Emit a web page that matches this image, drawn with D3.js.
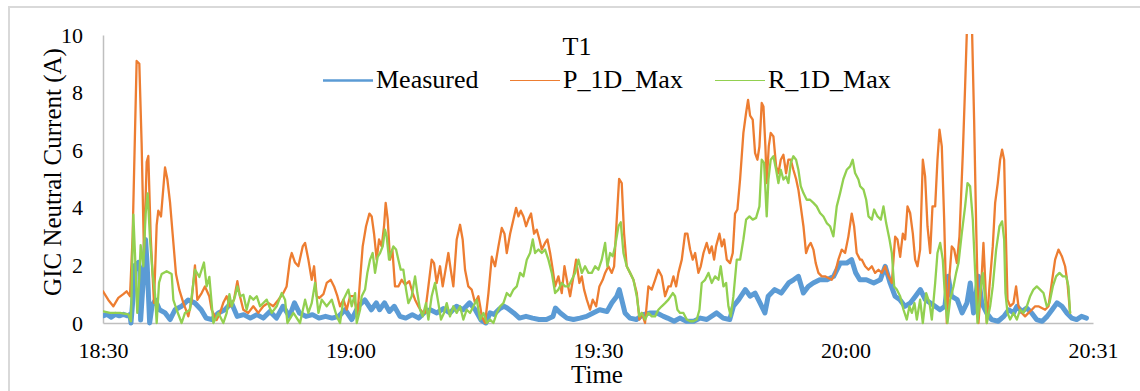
<!DOCTYPE html>
<html><head><meta charset="utf-8">
<script src="https://cdn.jsdelivr.net/npm/d3@7"></script>
<style>
body{margin:0;background:#fff}
svg{display:block}
text{font-family:"Liberation Serif","Times New Roman",serif;fill:#000}
</style>
</head><body>
<svg id="chart" width="1140" height="391"></svg>
<script>
// ---- data (time = minutes after 18:30, value = A) ----
const chartTitle = "T1";
const seriesNames = ["Measured", "P_1D_Max", "R_1D_Max"];
const yTicks = [0, 2, 4, 6, 8, 10];
const xTickLabels = ["18:30", "19:00", "19:30", "20:00", "20:31"];
const startClock = [18, 30];
const endClock = [20, 31];

const measured = [[0,0.25],[0.5,0.3],[1,0.2],[1.5,0.3],[2,0.25],[2.5,0.3],[3,0.25],[3.3,0.3],[3.42,0],[3.7,1.0],[3.9,2.0],[4.3,2.1],[4.5,1.8],[4.6,0.1],[4.9,1.4],[5.2,2.9],[5.4,2.0],[5.7,0],[6,0.6],[6.4,0.8],[6.9,0.46],[7.6,0.35],[8.2,0.12],[8.8,0.46],[9.6,0.58],[10.4,0.8],[11.2,0.7],[12,0.46],[12.6,0.17],[13.3,0.12],[14.1,0.35],[14.9,0.46],[15.7,0.7],[16.4,0.23],[17.2,0.29],[18,0.17],[18.8,0.29],[19.6,0.17],[20.4,0.4],[21.2,0.17],[22,0.58],[22.8,0.23],[23.4,0.7],[24,0.35],[24.8,0.23],[25.6,0.29],[26.4,0.17],[27.2,0.23],[28,0.17],[28.8,0.23],[29.6,0.46],[30.4,0.12],[31.2,0.58],[32,0.8],[32.8,0.46],[33.4,0.7],[33.8,0.46],[34.4,0.7],[35,0.4],[35.6,0.58],[36.3,0.23],[37,0.17],[37.8,0.29],[38.6,0.17],[39.4,0.4],[40,0.46],[40.8,0.35],[41.6,0.5],[42.4,0.35],[43.2,0.58],[44,0.46],[44.8,0.7],[45.5,0.46],[46.2,0.1],[46.8,0],[47.3,0.35],[47.8,0.3],[48.5,0.5],[49,0.58],[49.4,0.52],[50.2,0.35],[50.9,0.17],[51.7,0.23],[52.5,0.17],[53.3,0.12],[54.2,0.12],[55,0.23],[55.3,0.52],[55.9,0.35],[56.7,0.17],[57.5,0.12],[58.3,0.17],[59.1,0.23],[59.9,0.35],[60.7,0.46],[61.6,0.4],[62.2,0.7],[62.8,0.93],[63.1,1.16],[63.4,0.81],[63.8,0.35],[64.4,0.17],[65.2,0.12],[66,0.29],[66.9,0.35],[67.7,0.35],[68.5,0.23],[69,0.17],[69.8,0.06],[70.5,0.17],[71.3,0.06],[72.2,0.06],[73,0.17],[73.8,0.12],[75,0.35],[75.8,0.17],[76.6,0.12],[77.05,0.58],[77.7,0.81],[78.5,1.16],[79.1,0.93],[79.7,1.04],[80.3,0.7],[80.9,0.35],[81.3,0.93],[82.1,1.16],[82.9,1.04],[83.8,1.39],[84.4,1.5],[85,1.62],[85.6,1.04],[86.2,1.27],[86.8,1.39],[87.6,1.5],[88.5,1.5],[89.3,1.62],[90.1,2.08],[90.9,2.08],[91.5,2.2],[92,1.74],[92.5,1.5],[93.3,1.5],[94.2,1.39],[95,1.5],[95.6,1.97],[96.2,1.39],[96.8,0.93],[97.4,0.81],[98,0.58],[98.7,0.7],[99.3,0.93],[99.9,1.16],[100.5,0.81],[101.1,0.7],[101.7,0.58],[102.3,0.46],[102.9,0.58],[103.3,1.62],[103.7,0.93],[104.4,0.81],[105,0.35],[105.6,0.7],[106,1.39],[106.4,0.35],[107,1.62],[107.4,0.7],[108,0.35],[108.6,0.12],[109.4,0.06],[110.1,0.23],[110.7,0.46],[111.3,0.35],[111.7,0.58],[112.3,0.4],[112.9,0.52],[113.5,0.35],[114.1,0.12],[114.8,0.06],[115.4,0.23],[116,0.46],[116.6,0.7],[117.2,0.58],[117.8,0.35],[118.4,0.17],[119,0.12],[119.6,0.23],[120.2,0.17]];

const p1dMax = [[0,1.1],[0.65,0.8],[1.26,0.58],[1.87,0.87],[2.48,1.0],[2.89,1.1],[3.3,0.93],[3.62,3.0],[4.11,9.1],[4.44,9.0],[4.72,6.25],[5.01,2.4],[5.34,5.6],[5.54,5.8],[5.83,3.0],[6.23,0.7],[6.56,3.4],[6.76,3.9],[7.09,3.7],[7.58,5.4],[7.86,5.0],[8.19,4.2],[8.51,3.1],[8.92,1.7],[9.33,1.15],[9.82,0.7],[10.43,0.23],[10.84,0.8],[11.24,2.0],[11.53,0.8],[12.06,1.04],[12.46,1.27],[12.99,0.93],[13.28,0.46],[13.89,0.1],[14.3,0.35],[14.7,0.7],[15.11,0.93],[15.52,0.58],[16,0.8],[16.42,1.45],[16.74,0.93],[17.15,0.46],[17.76,0.35],[18.37,0.58],[18.98,0.35],[19.59,0.58],[20.2,0.7],[20.81,0.58],[21.42,0.8],[22.04,1.04],[22.44,1.27],[22.85,2.2],[23.07,2.43],[23.47,2.1],[23.88,1.97],[24.41,2.66],[24.7,2.78],[25.1,2.2],[25.51,1.5],[25.8,1.97],[26.12,0.93],[26.45,0.87],[26.94,1.0],[27.34,1.39],[27.83,1.5],[28.24,1.27],[28.65,0.93],[28.97,0.58],[29.38,0.81],[29.79,0.46],[30.19,0.93],[30.68,0.93],[31.09,0.23],[31.42,1.5],[31.74,2.66],[32.15,3.36],[32.56,3.8],[32.84,3.7],[33.13,3.1],[33.45,2.2],[33.74,2.9],[34.06,2.66],[34.35,3.36],[34.55,4.17],[34.8,3.6],[35.08,2.2],[35.37,2.55],[35.69,1.27],[36.1,1.27],[36.51,1.5],[36.92,1.33],[37.44,1.45],[37.85,1.04],[38.14,0.81],[38.54,0.58],[38.95,0.4],[39.36,0.35],[39.77,1.27],[40.17,2.2],[40.46,2.08],[40.78,1.39],[41.19,1.97],[41.52,1.27],[41.8,1.74],[42.21,2.43],[42.5,1.85],[42.82,1.27],[43.23,2.9],[43.64,3.41],[43.96,2.9],[44.25,1.85],[44.65,1.27],[45.06,1.16],[45.47,0.7],[45.88,0.93],[46.1,0.58],[46.3,0.23],[46.7,0],[47.11,1.04],[47.52,2.3],[47.92,1.97],[48.33,2.66],[48.74,3.3],[49.07,3.1],[49.35,2.43],[49.76,3.1],[50.17,3.6],[50.49,4.0],[50.78,3.7],[51.06,3.9],[51.39,3.7],[51.71,3.36],[52,3.6],[52.32,3.8],[52.69,3.1],[53.02,3.24],[53.34,2.9],[53.63,2.55],[54.03,2.78],[54.32,2.9],[54.65,2.43],[54.97,1.85],[55.26,1.27],[55.66,1.62],[56.07,1.04],[56.4,1.97],[56.76,1.39],[57.09,0.93],[57.5,1.62],[57.82,2.2],[58.23,1.39],[58.52,1.62],[58.8,1.16],[59.13,0.81],[59.53,0.46],[59.86,0.81],[60.27,0.58],[60.67,1.27],[61.08,1.5],[61.37,1.74],[61.77,1.97],[62.18,1.74],[62.47,1.97],[62.79,3.6],[63.08,5.0],[63.4,4.86],[63.69,3.1],[64.01,1.97],[64.42,1.74],[64.83,1.5],[65.24,1.04],[65.56,0.12],[65.85,0.35],[66.25,0],[66.66,1.27],[67.07,1.16],[67.48,1.5],[67.88,1.85],[68.29,1.62],[68.7,0.93],[69.11,1.27],[69.39,1.27],[69.72,1.62],[70.05,1.27],[70.33,1.74],[70.74,2.2],[71.14,3.1],[71.43,3.1],[71.76,2.55],[72.08,2.2],[72.37,2.43],[72.77,1.74],[73.06,1.97],[73.39,2.43],[73.79,2.78],[74.12,2.43],[74.4,2.66],[74.69,2.2],[74.93,2.66],[75.34,3.1],[75.63,2.66],[75.91,2.9],[76.24,2.2],[76.64,2.08],[76.97,2.43],[77.25,3.8],[77.54,3.94],[77.87,5.0],[78.27,6.6],[78.6,7.3],[78.84,7.75],[79.09,7.2],[79.41,7.06],[79.7,5.9],[79.98,5.67],[80.23,6.13],[80.51,7.64],[80.72,7.52],[80.96,6.13],[81.12,4.86],[81.37,6.13],[81.61,6.6],[81.94,6.48],[82.27,5.44],[82.55,5.2],[82.84,5.67],[83.16,5.84],[83.49,5.2],[83.77,5.67],[84.06,5.67],[84.38,5.32],[84.71,5.0],[84.99,4.63],[85.28,4.05],[85.61,3.36],[85.93,2.43],[86.22,2.66],[86.5,2.78],[86.83,2.55],[87.11,2.08],[87.44,1.74],[87.85,1.62],[88.25,1.62],[88.66,1.56],[89.07,1.5],[89.48,1.74],[89.88,2.2],[90.29,2.55],[90.7,2.43],[91.1,3.0],[91.51,3.8],[91.8,3.36],[92.12,2.43],[92.53,2.2],[92.75,2.2],[93.15,1.97],[93.56,1.85],[93.97,1.97],[94.37,1.74],[94.78,1.85],[95.19,1.74],[95.6,1.97],[96,1.62],[96.41,1.39],[96.82,3.0],[97.1,2.9],[97.43,2.3],[97.76,3.1],[98.04,2.9],[98.33,4.05],[98.65,3.82],[98.98,3.1],[99.26,2.2],[99.55,1.97],[99.87,2.55],[100.2,5.67],[100.48,5.09],[100.77,3.36],[101.1,2.43],[101.38,4.05],[101.71,4.05],[101.99,5.67],[102.24,6.71],[102.52,6.13],[102.81,3.59],[103.13,0],[103.42,1.5],[103.74,2.66],[104.03,2.55],[104.36,2.08],[104.68,3.01],[105.09,5.9],[105.37,8.22],[105.58,10.1],[105.9,11.5],[106.19,10.5],[106.47,7.06],[106.72,3.36],[107,0],[107.33,1.27],[107.61,2.78],[107.82,1.5],[108.02,0],[108.35,1.27],[108.75,2.66],[109.04,4.17],[109.36,4.86],[109.65,5.67],[109.89,6.02],[110.14,5.67],[110.3,3.59],[110.55,0.81],[110.87,0.58],[111.28,0.69],[111.6,1.27],[111.89,0.58],[112.3,0.35],[112.7,0.23],[113.11,0.35],[113.52,0.46],[113.93,0.58],[114.33,0.58],[114.74,0.52],[115.15,0.46],[115.56,0.58],[115.96,1.39],[116.37,2.2],[116.78,2.55],[117.19,2.32],[117.59,1.97],[117.88,1.39],[118.2,0.35]];

const r1dMax = [[0.04,0.4],[0.85,0.35],[2.07,0.35],[3.1,0.3],[3.42,0.06],[3.71,3.76],[3.91,2.4],[4.19,0.35],[4.44,1.6],[4.6,2.7],[4.93,1.97],[5.21,3.8],[5.46,4.5],[5.75,2.9],[6.07,1.7],[6.36,1.0],[6.56,0],[6.85,1.4],[7.17,1.7],[7.78,1.8],[8.39,1.7],[8.6,0.8],[9,0.46],[9.61,0],[10.02,0.35],[10.63,0.46],[11.25,1.85],[11.78,1.6],[12.34,2.1],[12.67,1.27],[13,1.6],[13.49,0],[14.1,0.35],[14.71,0],[15.12,0.35],[15.45,1.0],[15.73,0.58],[16.14,0.93],[16.42,1.27],[16.75,0.93],[17.16,0.98],[17.56,0.46],[17.97,0.93],[18.38,0.81],[18.79,0.93],[19.2,0.58],[20.01,0.81],[20.62,0.35],[21.23,0.58],[21.84,1.04],[22.25,0.81],[22.54,0],[23.27,0.35],[24.08,0],[24.7,0.81],[25.1,0.35],[25.51,0.69],[25.92,1.39],[26.33,0.35],[26.73,0.81],[27.34,0.58],[27.96,0.81],[28.57,0.23],[28.97,0],[29.38,0.81],[29.99,1.16],[30.4,0.58],[30.81,1.04],[31.01,0],[31.42,0.46],[31.62,0.93],[32.03,1.16],[32.31,1.74],[32.64,2.2],[32.96,2.43],[33.25,1.74],[33.57,2.3],[33.86,2.43],[34.19,2.66],[34.47,3.24],[34.67,3.01],[34.96,2.2],[35.2,2.43],[35.49,2.66],[35.82,2.55],[36.1,2.2],[36.39,1.85],[36.71,1.85],[37.04,1.16],[37.32,0.69],[37.73,0.93],[38.14,1.62],[38.42,1.04],[38.75,0.46],[39.07,0.23],[39.48,0.69],[39.77,0.12],[40.17,0.93],[40.58,1.39],[40.99,0.69],[41.31,0.12],[41.68,0.35],[42.01,0.69],[42.41,0.23],[42.82,0.58],[43.23,0.35],[43.64,0.58],[44.04,0.12],[44.45,0.46],[44.86,0.35],[45.68,0.81],[46.09,0.12],[46.5,0.35],[46.91,0],[47.31,0.12],[47.72,0],[48.13,0.35],[48.54,0.58],[48.94,0.69],[49.35,1.04],[49.76,0.93],[50.17,1.16],[50.57,1.27],[50.98,1.74],[51.39,1.62],[51.8,2.2],[52.2,2.43],[52.53,2.9],[52.81,2.43],[53.22,2.55],[53.63,2.43],[54.03,2.55],[54.44,2.2],[54.85,1.74],[55.26,1.04],[55.66,1.16],[56.07,1.39],[56.48,1.27],[56.89,1.27],[57.29,1.5],[57.7,1.74],[58.11,2.2],[58.52,1.74],[58.92,1.97],[59.33,1.74],[59.74,1.74],[60.15,1.97],[60.55,1.85],[60.96,2.2],[61.37,2.78],[61.65,1.97],[61.98,2.43],[62.3,2.32],[62.59,2.66],[63,3.36],[63.28,3.5],[63.61,2.43],[64.01,1.97],[64.42,1.74],[64.83,1.5],[65.24,0.93],[65.56,0.23],[65.85,0.35],[66.25,0.12],[66.66,0.35],[67.07,0.23],[67.48,0.23],[67.88,0.46],[68.29,0.58],[68.7,0.69],[69.11,0.81],[69.64,1.04],[69.92,0.93],[70.21,0.46],[70.53,0.35],[70.94,0.35],[71.35,0.12],[71.76,0.06],[72.16,0.06],[72.57,0.12],[72.9,0.46],[73.18,1.39],[73.59,1.5],[74,1.74],[74.4,1.39],[74.81,1.62],[75.22,1.5],[75.5,1.97],[75.83,1.27],[76.16,1.39],[76.44,0.58],[76.73,0.23],[77.05,0.93],[77.46,2.2],[77.87,2.2],[78.27,2.9],[78.6,3.59],[79.01,3.7],[79.41,3.59],[79.82,3.65],[80.23,4.05],[80.51,5.67],[80.8,5.56],[81.12,3.7],[81.33,4.98],[81.61,5.67],[81.94,5.79],[82.27,5.32],[82.55,4.86],[82.84,5.32],[83.16,4.98],[83.49,5.09],[83.77,4.86],[84.06,5.56],[84.38,5.79],[84.71,5.67],[84.99,5.32],[85.28,4.75],[85.61,4.51],[86.01,4.28],[86.42,4.28],[86.83,4.17],[87.23,4.05],[87.64,3.82],[88.05,3.7],[88.46,3.47],[88.86,3.36],[89.27,3.01],[89.68,4.05],[90.09,4.51],[90.49,5.0],[90.9,5.32],[91.31,5.44],[91.63,5.67],[91.92,5.21],[92.33,4.98],[92.54,4.75],[92.95,4.63],[93.28,4.28],[93.56,3.7],[93.97,3.59],[94.25,3.94],[94.66,3.7],[95.07,3.59],[95.39,4.05],[95.72,3.47],[96.13,2.9],[96.41,2.43],[96.7,1.27],[97.02,1.16],[97.43,0.93],[97.84,0.46],[98.24,0.12],[98.57,0.58],[98.86,0.35],[99.18,0.69],[99.47,0.12],[99.87,0.81],[100.2,0],[100.61,1.04],[101.02,0.69],[101.3,0.12],[101.71,1.39],[101.99,2.43],[102.32,2.78],[102.64,2.2],[102.93,0.81],[103.21,0],[103.54,0.81],[103.95,1.27],[104.27,1.74],[104.56,2.08],[104.97,3.13],[105.37,4.05],[105.66,4.86],[105.98,4.75],[106.31,3.59],[106.6,1.74],[106.88,0],[107.21,1.04],[107.53,1.74],[107.82,0.81],[108.02,0],[108.43,0.58],[108.75,1.27],[109.16,2.55],[109.57,3.36],[109.89,3.53],[110.14,2.9],[110.3,1.04],[110.55,0.35],[110.87,0.12],[111.28,0.35],[111.69,0.12],[112.09,0.46],[112.5,0.35],[112.91,0.58],[113.32,0.93],[113.72,1.16],[114.13,1.27],[114.54,1.16],[114.95,1.04],[115.35,0.58],[115.68,0.69],[116.09,1.27],[116.49,1.62],[116.9,1.74],[117.31,1.62],[117.72,1.62],[118,1.27],[118.2,0.35]];

// ---- drawing ----
const svg = d3.select("#chart");
const plot = {left: 103, right: 1093, top: 35, bottom: 323};
const colors = ["#5b9bd5", "#ed7d31", "#92d050"];
const widths = [5, 2.3, 2.3];

// chart area frame (extends past the window on right/bottom)
svg.append("rect").attr("x", 9).attr("y", 7).attr("width", 1300).attr("height", 600)
  .attr("fill", "#fff").attr("stroke", "#d9d9d9").attr("stroke-width", 2);

const t0 = new Date(2000, 0, 1, startClock[0], startClock[1]);
const t1 = new Date(2000, 0, 1, endClock[0], endClock[1]);
const toDate = m => new Date(t0.getTime() + m * 60000);

const x = d3.scaleTime().domain([t0, t1]).range([plot.left, plot.right]);
const y = d3.scaleLinear().domain([0, 10]).range([plot.bottom, plot.top]);

const xTickVals = xTickLabels.map((_, i) => new Date(t0.getTime() + i * (t1 - t0) / (xTickLabels.length - 1)));

svg.append("defs").append("clipPath").attr("id", "clip")
  .append("rect").attr("x", plot.left).attr("y", plot.top - 1)
  .attr("width", plot.right - plot.left + 6).attr("height", plot.bottom - plot.top + 6);

// axes
const yAxis = svg.append("g").attr("transform", `translate(${plot.left},0)`)
  .call(d3.axisLeft(y).tickValues(yTicks).tickSize(0).tickPadding(20).tickFormat(d3.format("d")));
const xAxis = svg.append("g").attr("transform", `translate(0,${plot.bottom})`)
  .call(d3.axisBottom(x).tickValues(xTickVals).tickSize(0).tickPadding(19).tickFormat((d, i) => xTickLabels[i]));
[yAxis, xAxis].forEach(g => {
  g.attr("font-family", null);
  g.select(".domain").attr("stroke", "#bfbfbf").attr("stroke-width", 1.5);
  g.selectAll("text").style("font-family", '"Liberation Serif", "Times New Roman", serif').style("font-size", "22px").attr("fill", "#000");
});

// lines
const line = d3.line().x(d => x(toDate(d[0]))).y(d => y(d[1])).curve(d3.curveLinear);
const data = [measured, p1dMax, r1dMax];
const lines = svg.append("g").attr("clip-path", "url(#clip)");
data.forEach((s, i) => {
  lines.append("path").datum(s).attr("d", line)
    .attr("fill", "none").attr("stroke", colors[i]).attr("stroke-width", widths[i])
    .attr("stroke-linejoin", "round").attr("stroke-linecap", "round");
});

// title
svg.append("text").attr("x", 577).attr("y", 55).attr("text-anchor", "middle")
  .style("font-size", "26px").text(chartTitle);

// legend
const legendX = [323, 510, 715];
const legendW = [2.5, 1.2, 1.2];
seriesNames.forEach((n, i) => {
  svg.append("line").attr("x1", legendX[i]).attr("x2", legendX[i] + 50)
    .attr("y1", 80.5).attr("y2", 80.5).attr("stroke", colors[i]).attr("stroke-width", legendW[i]);
  svg.append("text").attr("x", legendX[i] + 53).attr("y", 88).style("font-size", "26px").text(n);
});

// axis titles
svg.append("text").attr("x", 597).attr("y", 383).attr("text-anchor", "middle")
  .style("font-size", "25px").text("Time");
svg.append("text").attr("transform", "translate(61,172) rotate(-90)").attr("text-anchor", "middle")
  .style("font-size", "25px").text("GIC Neutral Current (A)");
</script>
</body></html>
